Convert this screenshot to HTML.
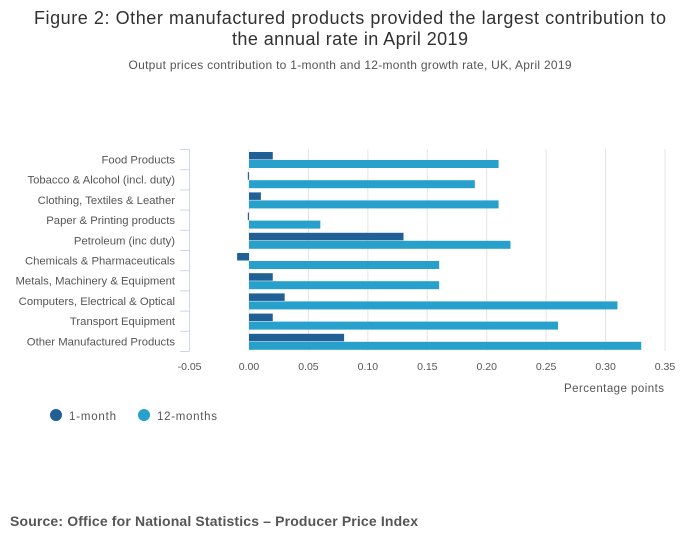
<!DOCTYPE html>
<html><head><meta charset="utf-8"><style>
body{margin:0;background:#fff;font-family:"Liberation Sans",sans-serif;}
</style></head><body>
<svg width="700" height="549" xmlns="http://www.w3.org/2000/svg" font-family="Liberation Sans, sans-serif">
<text x="350" y="24" text-anchor="middle" font-size="18" textLength="632" lengthAdjust="spacing" fill="#323132">Figure 2: Other manufactured products provided the largest contribution to</text>
<text x="350" y="45" text-anchor="middle" font-size="18" textLength="236" lengthAdjust="spacing" fill="#323132">the annual rate in April 2019</text>
<text x="350" y="69" text-anchor="middle" font-size="12" textLength="443" lengthAdjust="spacing" fill="#555">Output prices contribution to 1-month and 12-month growth rate, UK, April 2019</text>
<g id="grid"></g><g id="bars"></g><g id="axes"></g>
<text x="664" y="392" text-anchor="end" font-size="11.5" textLength="100" lengthAdjust="spacing" fill="#555">Percentage points</text>
<g>
<circle cx="56" cy="415" r="6" fill="#206095"/>
<text x="69" y="420" font-size="11.5" textLength="47" fill="#555">1-month</text>
<circle cx="144" cy="415" r="6" fill="#27a0cc"/>
<text x="157" y="420" font-size="11.5" textLength="60" fill="#555">12-months</text>
</g>
<text x="10" y="526" font-size="14" font-weight="bold" textLength="408" lengthAdjust="spacing" fill="#555">Source: Office for National Statistics – Producer Price Index</text>
</svg>
<script>
const categories=["Food Products","Tobacco & Alcohol (incl. duty)","Clothing, Textiles & Leather","Paper & Printing products","Petroleum (inc duty)","Chemicals & Pharmaceuticals","Metals, Machinery & Equipment","Computers, Electrical & Optical","Transport Equipment","Other Manufactured Products"];
const oneMonth=[0.02,-0.001,0.01,-0.001,0.13,-0.01,0.02,0.03,0.02,0.08];
const twelveMonths=[0.21,0.19,0.21,0.06,0.22,0.16,0.16,0.31,0.26,0.33];
const ticks=[-0.05,0,0.05,0.10,0.15,0.20,0.25,0.30,0.35];
const tickLabels=["-0.05","0.00","0.05","0.10","0.15","0.20","0.25","0.30","0.35"];
(function(){
const NS="http://www.w3.org/2000/svg";
const x=v=>249+v*(665-249)/0.35;
const rowH=20.2, plotTop=149;
const y=i=>plotTop+i*rowH;
function mk(t,a,p){const e=document.createElementNS(NS,t);for(const k in a)e.setAttribute(k,a[k]);document.getElementById(p).appendChild(e);return e;}
ticks.forEach((t,i)=>{
 const g=mk('line',{x1:x(t),x2:x(t),y1:149,y2:351,stroke:'#e4e4e4','stroke-width':1},'grid');
 
 
 const l=mk('text',{x:x(t),y:370,'text-anchor':'middle','font-size':10.5,fill:'#555'},'axes');
 l.textContent=tickLabels[i];
 
 
});
const ax=mk('line',{x1:189.5,x2:189.5,y1:149,y2:351,stroke:'#ccd6eb'},'axes');


for(let i=0;i<=categories.length;i++){
 const tk=mk('line',{x1:180,x2:189.5,y1:y(i)+0.5,y2:y(i)+0.5,stroke:'#ccd6eb'},'axes');
 
 
}
categories.forEach((c,i)=>{
 const l=mk('text',{x:175,y:y(i)+14.5,'text-anchor':'end','font-size':11.3,fill:'#555'},'axes');
 l.textContent=c;
 
 
 const v1=oneMonth[i],v2=twelveMonths[i];
 const b1=mk('rect',{x:Math.min(x(0),x(v1)),y:y(i)+3,width:Math.max(1,Math.abs(x(v1)-x(0))),height:7.5,fill:'#206095'},'bars');
 
 
 const b2=mk('rect',{x:Math.min(x(0),x(v2)),y:y(i)+11,width:Math.max(1,Math.abs(x(v2)-x(0))),height:8,fill:'#27a0cc'},'bars');
 
 
});
})();
</script>
</body></html>
